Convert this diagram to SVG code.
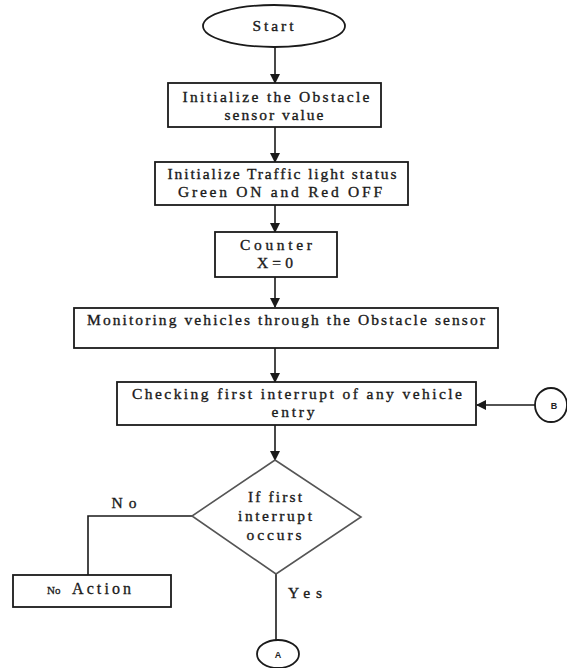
<svg xmlns="http://www.w3.org/2000/svg" width="567" height="668" viewBox="0 0 567 668">
<style>
.box{fill:#fff;stroke:#1a1a1a;stroke-width:1.8}
.dia{fill:#fff;stroke:#555;stroke-width:1.6}
.ln{fill:none;stroke:#1a1a1a;stroke-width:1.6}
.t{font-family:"Liberation Serif","Times New Roman",serif;font-size:15.5px;fill:#1a1a1a;stroke:#1a1a1a;stroke-width:0.35;text-anchor:middle}
.s{font-family:"Liberation Sans",Arial,sans-serif;font-size:9px;font-weight:bold;fill:#222;text-anchor:middle}
</style>
<defs>
<marker id="ah" markerWidth="10" markerHeight="10" refX="9" refY="5" orient="auto" markerUnits="userSpaceOnUse">
<path d="M0,0 L10,5 L0,10 Z" fill="#1a1a1a"/>
</marker>
</defs>
<g id="connectors">
<line class="ln" x1="275" y1="47" x2="275" y2="83" marker-end="url(#ah)"/>
<line class="ln" x1="275" y1="127" x2="275" y2="162" marker-end="url(#ah)"/>
<line class="ln" x1="275" y1="205" x2="275" y2="232" marker-end="url(#ah)"/>
<line class="ln" x1="275" y1="277" x2="275" y2="307" marker-end="url(#ah)"/>
<line class="ln" x1="275" y1="348" x2="275" y2="382" marker-end="url(#ah)"/>
<line class="ln" x1="275" y1="425" x2="275" y2="460" marker-end="url(#ah)"/>
<line class="ln" x1="535" y1="405" x2="477" y2="405" marker-end="url(#ah)"/>
<polyline class="ln" points="192,516 88,516 88,575"/>
<line class="ln" x1="276" y1="574" x2="276" y2="640"/>
</g>
<g id="start">
<ellipse class="box" cx="274" cy="26" rx="71" ry="21"/>
<text class="t" x="273" y="31" textLength="41" lengthAdjust="spacing">Start</text>
</g>
<g id="init-sensor">
<rect class="box" x="168" y="83" width="213" height="44"/>
<text class="t" x="276" y="102" textLength="187" lengthAdjust="spacing">Initialize the Obstacle</text>
<text class="t" x="274" y="120" textLength="99" lengthAdjust="spacing">sensor value</text>
</g>
<g id="init-traffic">
<rect class="box" x="155" y="162" width="253" height="43"/>
<text class="t" x="282" y="179" textLength="229" lengthAdjust="spacing">Initialize Traffic light status</text>
<text class="t" x="280" y="197" textLength="204" lengthAdjust="spacing">Green ON and Red OFF</text>
</g>
<g id="counter">
<rect class="box" x="215" y="232" width="122" height="45"/>
<text class="t" x="276" y="250" textLength="72" lengthAdjust="spacing">Counter</text>
<text class="t" x="275" y="268" textLength="36" lengthAdjust="spacing">X=0</text>
</g>
<g id="monitoring">
<rect class="box" x="74" y="308" width="424" height="40"/>
<text class="t" x="286" y="325" textLength="398" lengthAdjust="spacing">Monitoring vehicles through the Obstacle sensor</text>
</g>
<g id="checking">
<rect class="box" x="117" y="382" width="359" height="43"/>
<text class="t" x="297" y="399" textLength="330" lengthAdjust="spacing">Checking first interrupt of any vehicle</text>
<text class="t" x="293" y="417" textLength="43" lengthAdjust="spacing">entry</text>
</g>
<g id="decision">
<polygon class="dia" points="275,460 361,517 276,574 192,516"/>
<text class="t" x="275" y="502" textLength="54" lengthAdjust="spacing">If first</text>
<text class="t" x="275" y="521" textLength="74" lengthAdjust="spacing">interrupt</text>
<text class="t" x="274" y="540" textLength="55" lengthAdjust="spacing">occurs</text>
</g>
<g id="no-label">
<text class="t" x="124" y="508" textLength="25" lengthAdjust="spacing">No</text>
</g>
<g id="no-action">
<rect class="box" x="13" y="575" width="158" height="32"/>
<text style="font-family:'Liberation Serif','Times New Roman',serif;fill:#1a1a1a;stroke:#1a1a1a;stroke-width:0.3"><tspan x="47" y="594" font-size="11">No</tspan><tspan x="72" y="594" font-size="16" textLength="59" lengthAdjust="spacing">Action</tspan></text>
</g>
<g id="yes-label">
<text class="t" x="305" y="598" textLength="34" lengthAdjust="spacing">Yes</text>
</g>
<g id="connector-a">
<ellipse class="box" cx="278" cy="654" rx="21" ry="14"/>
<text class="s" x="278" y="658">A</text>
</g>
<g id="connector-b">
<ellipse class="box" cx="551" cy="405" rx="16" ry="17"/>
<text class="s" x="554" y="409">B</text>
</g>
</svg>
